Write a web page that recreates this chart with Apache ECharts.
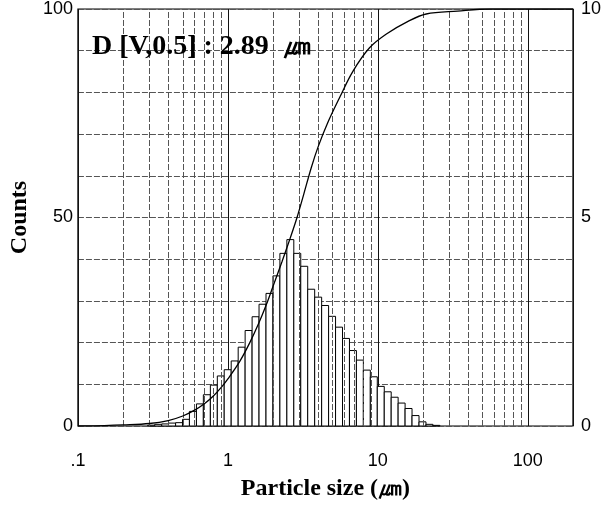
<!DOCTYPE html>
<html><head><meta charset="utf-8">
<script src="https://cdn.jsdelivr.net/npm/echarts/dist/echarts.min.js"></script>
<style>html,body{margin:0;padding:0;background:#fff}#c{width:604px;height:506px}</style>
</head><body><div id="c"></div>
<script>
// Histogram bin edges (µm) and bin heights (right axis units, 0-10)
const binEdges = [0.292,0.325,0.362,0.402,0.448,0.498,0.554,0.617,0.686,0.764,0.850,0.945,1.052,1.171,1.303,1.450,1.613,1.795,1.997,2.222,2.473,2.751,3.061,3.406,3.790,4.218,4.693,5.222,5.810,6.465,7.194,8.005,8.907,9.911,11.03,12.27,13.65,15.19,16.90,18.81,20.93,23.29,25.91];
const binValues = [0.02,0.04,0.05,0.07,0.08,0.16,0.35,0.53,0.75,0.98,1.20,1.35,1.56,1.89,2.29,2.62,2.92,3.18,3.60,4.14,4.47,4.14,3.83,3.28,3.09,2.89,2.63,2.37,2.10,1.81,1.58,1.34,1.18,0.95,0.82,0.69,0.55,0.42,0.25,0.10,0.04,0.015];
// Cumulative curve (left axis, 0-100)
const cumSizes = [0.1,0.15,0.2,0.3,0.4,0.5,0.6,0.7,0.8,0.9,1.0,1.2,1.4,1.6,1.8,2.0,2.3,2.6,2.89,3.2,3.6,4.0,4.6,5.6,6.8,8.8,11.4,16,21,34,56,200];
const cumValues = [0,0.1,0.25,0.6,1.3,2.4,3.8,5.4,7.2,9.2,11.3,15.5,20,24.5,29,33.5,39.5,45,50,55.5,62,67,72.5,79,85,90.7,94,97.1,98.8,99.5,100,100];
// Tick labels
const xTickLabels = {"0.1": ".1", "1": "1", "10": "10", "100": "100"};
const leftTickLabels = [0, 50, 100];
const rightTickLabels = [0, 5, 10];
const minorGridX = [0.2,0.3,0.4,0.5,0.6,0.7,0.8,0.9,2,3,4,5,6,7,8,9,20,30,40,50,60,70,80,90];
const annotation = "D [V,0.5] : 2.89  \u339B";

const chart = echarts.init(document.getElementById('c'), null, {renderer: 'canvas'});
const binData = binValues.map((v, i) => [binEdges[i], binEdges[i + 1], v]);
const cumData = cumSizes.map((s, i) => [s, cumValues[i]]);
const gridColor = '#555';

chart.setOption({
  animation: false,
  backgroundColor: '#fff',
  grid: {left: 73, right: 27, top: 8, bottom: 77, show: true, borderColor: '#000', borderWidth: 1.2},
  xAxis: {
    type: 'log', logBase: 10, min: 0.1, max: 200,
    name: 'Particle size (\u339B)', nameLocation: 'middle', nameGap: 51,
    nameTextStyle: {fontFamily: 'Liberation Serif', fontWeight: 'bold', fontSize: 24, color: '#000'},
    axisLine: {show: false}, axisTick: {show: false},
    axisLabel: {margin: 26, fontFamily: 'Liberation Sans', fontSize: 18, color: '#000',
      formatter: v => { const k = String(Math.round(v * 1000) / 1000); return xTickLabels[k] || ''; }},
    splitLine: {show: true, lineStyle: {color: '#111', width: 1}}
  },
  yAxis: [{
    type: 'value', min: 0, max: 100, interval: 10,
    name: 'Counts', nameLocation: 'middle', nameGap: 40,
    nameTextStyle: {fontFamily: 'Liberation Serif', fontWeight: 'bold', fontSize: 24, color: '#000'},
    axisLine: {show: false}, axisTick: {show: false},
    axisLabel: {margin: 5, fontFamily: 'Liberation Sans', fontSize: 18, color: '#000',
      formatter: v => leftTickLabels.includes(v) ? String(v) : ''},
    splitLine: {show: true, lineStyle: {color: gridColor, width: 1, type: [6, 2]}}
  }, {
    type: 'value', min: 0, max: 10, interval: 5, position: 'right',
    axisLine: {show: false}, axisTick: {show: false},
    axisLabel: {margin: 8, fontFamily: 'Liberation Sans', fontSize: 18, color: '#000',
      formatter: v => rightTickLabels.includes(v) ? String(v) : ''},
    splitLine: {show: false}
  }],
  graphic: [{
    type: 'text', left: 92, top: 33, z: 100,
    style: {text: annotation, font: 'bold 28px "Liberation Serif"', fill: '#000'}
  }],
  series: [{
    type: 'line', data: [], silent: true,
    markLine: {
      silent: true, symbol: 'none', label: {show: false},
      lineStyle: {color: gridColor, width: 1, type: [6, 2]},
      data: minorGridX.map(v => ({xAxis: v}))
    }
  }, {
    type: 'custom', xAxisIndex: 0, yAxisIndex: 1, data: binData, z: 3,
    encode: {x: [0, 1], y: 2},
    renderItem: (params, api) => {
      const p1 = api.coord([api.value(0), api.value(2)]);
      const p2 = api.coord([api.value(1), 0]);
      return {type: 'rect', shape: {x: p1[0], y: p1[1], width: p2[0] - p1[0], height: p2[1] - p1[1]},
        style: {fill: '#fff', stroke: '#000', lineWidth: 1}};
    }
  }, {
    type: 'line', yAxisIndex: 0, data: cumData, smooth: 0.35, symbol: 'none', z: 5,
    lineStyle: {color: '#000', width: 1.3}
  }]
});
</script></body></html>
